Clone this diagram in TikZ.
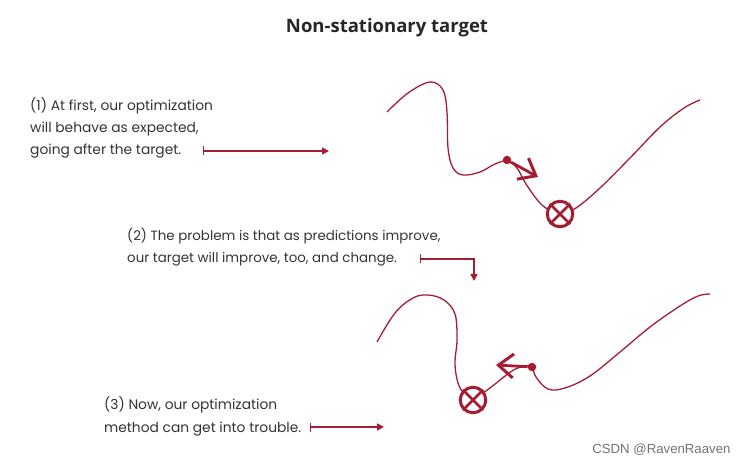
\documentclass[tikz,border=0pt]{standalone}
\usepackage{fontspec}
\usepackage{tikz}
\usetikzlibrary{arrows.meta, positioning, calc}
\newfontfamily\handfont{Poppins}
\newfontfamily\titlefont{Open Sans}
\newfontfamily\markfont{Liberation Sans}
\definecolor{crimson}{HTML}{A51D33}

\begin{document}
\begin{tikzpicture}[
    x=1pt, y=-1pt,
    note/.style={anchor=base west, align=left, inner sep=0pt,
                 font=\handfont\fontsize{13.8}{22.3}\selectfont, text=black!80},
    pointer/.style={{Bar[width=9pt]}-{Triangle[length=7pt,width=7pt]}, crimson, line width=1.4pt},
    landscape/.style={crimson, line width=1.3pt},
    step arrow/.style={-{Straight Barb[length=15pt,width=24pt,line width=3pt]}, crimson, line width=2.8pt},
    estimate/.style={circle, fill=crimson, inner sep=0pt, minimum size=8.5pt},
    goal/.style={circle, draw=crimson, fill=white, line width=3pt, inner sep=0pt, minimum size=25.5pt}
]
    \useasboundingbox (0,0) rectangle (745,465);

    % title
    \node[font=\titlefont\bfseries\fontsize{18.5}{22}\selectfont, text=black!85] (title) at (387,28) {Non-stationary target};

    % notes (anchored on the baseline of their last line)
    \node[note] (noteA) at (30,155) {(1) At first, our optimization\\will behave as expected,\\going after the target.};
    \node[note, font=\handfont\fontsize{13.4}{22.3}\selectfont] (noteB) at (127,263) {(2) The problem is that as predictions improve,\\our target will improve, too, and change.};
    \node[note] (noteC) at (104,432) {(3) Now, our optimization\\method can get into trouble.};

    % pointers
    \coordinate (pA1) at (203,151);
    \coordinate (pA2) at (329,151);
    \coordinate (pB1) at (420,259);
    \coordinate (pB2) at (474,281);
    \coordinate (pC1) at (310,427);
    \coordinate (pC2) at (384,427);
    \draw[pointer] (pA1) -- (pA2);
    \draw[pointer] (pB1) -| (pB2);
    \draw[pointer] (pC1) -- (pC2);

    % first landscape
    \draw[landscape] plot[smooth, tension=0.6] coordinates {
        (387,112) (408,93) (430,82) (443,90) (447,112) (448,148) (453,168) (463,175)
        (480,172) (495,164) (507,161) (517,168) (526,184) (542,205) (560,214)
        (576,208) (600,188) (630,158) (660,127) (684,108) (700,100)};
    \node[estimate] (estA) at (507,160) {};
    \coordinate (tipA) at (538,177);
    \draw[step arrow] (estA) -- (tipA);
    \node[goal] (goalA) at (560,214) {};
    \draw[crimson, line width=2.6pt] (goalA.north west) -- (goalA.south east)
        (goalA.north east) -- (goalA.south west);

    % second landscape
    \draw[landscape] plot[smooth, tension=0.6] coordinates {
        (377,342) (395,313) (413,298) (428,295) (444,300) (455,314) (457,340)
        (455,365) (460,388) (473,400)};
    \draw[landscape] plot[smooth, tension=0.6] coordinates {
        (473,400) (490,388) (512,371) (525,366) (532,367) (536,377) (548,389)
        (565,388) (590,376) (620,352) (650,327) (680,306) (698,296) (710,294)};
    \node[estimate] (estB) at (532,367) {};
    \coordinate (tipB) at (496,365);
    \draw[step arrow] (estB) -- (tipB);
    \node[goal] (goalB) at (473,400) {};
    \draw[crimson, line width=2.6pt] (goalB.north west) -- (goalB.south east)
        (goalB.north east) -- (goalB.south west);

    % watermark
    \node[font=\markfont\fontsize{13.2}{15}\selectfont, text=black!55, anchor=east] (mark) at (734,450) {CSDN @RavenRaaven};
\end{tikzpicture}
\end{document}
